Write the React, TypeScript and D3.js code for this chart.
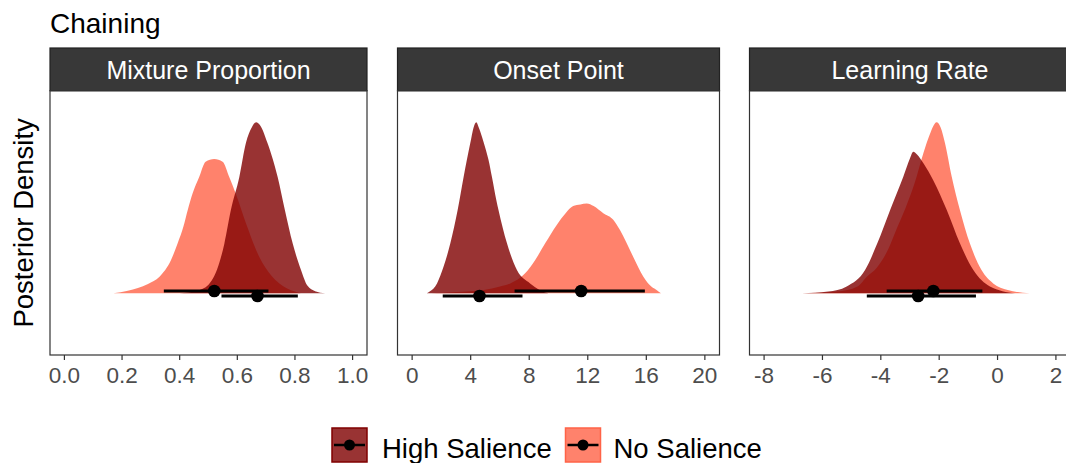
import React from "react";
import * as d3 from "d3";

// ---------- data ----------
const panelTitles = ["Mixture Proportion", "Onset Point", "Learning Rate"];
const groupNames = ["High Salience", "No Salience"];
const xTickValues = [
  [0, 0.2, 0.4, 0.6, 0.8, 1.0],
  [0, 4, 8, 12, 16, 20],
  [-8, -6, -4, -2, 0, 2],
];
const xTickLabels = [
  ["0.0", "0.2", "0.4", "0.6", "0.8", "1.0"],
  ["0", "4", "8", "12", "16", "20"],
  ["-8", "-6", "-4", "-2", "0", "2"],
];
const xDomains = [
  [-0.05, 1.05],
  [-1, 21],
  [-8.5, 2.5],
];

// relative posterior density (panel max = 1)
const mixtureHigh = [
  [0.4, 0], [0.46, 0.015], [0.5, 0.05], [0.53, 0.14], [0.555, 0.29], [0.578, 0.49],
  [0.607, 0.68], [0.63, 0.88], [0.65, 0.97], [0.665, 1.0], [0.68, 0.98], [0.705, 0.877],
  [0.74, 0.68], [0.765, 0.487], [0.792, 0.292], [0.821, 0.136], [0.843, 0.045],
  [0.87, 0.012], [0.905, 0],
];
const mixtureNo = [
  [0.17, 0], [0.22, 0.015], [0.29, 0.055], [0.33, 0.097], [0.37, 0.195], [0.393, 0.292],
  [0.413, 0.39], [0.428, 0.487], [0.445, 0.585], [0.468, 0.682], [0.49, 0.77],
  [0.52, 0.785], [0.549, 0.77], [0.572, 0.68], [0.595, 0.58], [0.63, 0.41],
  [0.676, 0.214], [0.72, 0.1], [0.746, 0.058], [0.8, 0.01], [0.82, 0],
];
const onsetHigh = [
  [1.0, 0], [1.2, 0.01], [1.7, 0.058], [2.15, 0.156], [2.61, 0.292], [3.11, 0.487],
  [3.52, 0.682], [3.97, 0.877], [4.2, 0.97], [4.38, 1.0], [4.55, 0.97], [4.77, 0.916],
  [5.0, 0.85], [5.22, 0.78], [5.45, 0.682], [5.75, 0.546], [5.9, 0.487], [6.48, 0.292],
  [7.16, 0.136], [8.06, 0.058], [8.7, 0.02], [9.3, 0],
];
const onsetNo = [
  [1.3, 0], [3.0, 0.008], [4.88, 0.02], [6.0, 0.04], [6.7, 0.058], [7.72, 0.117],
  [8.41, 0.195], [9.09, 0.292], [9.88, 0.4], [10.5, 0.47], [11.0, 0.51], [11.5, 0.52],
  [11.93, 0.525], [12.4, 0.51], [13.06, 0.468], [13.74, 0.43], [14.2, 0.37],
  [15.1, 0.214], [15.8, 0.097], [16.4, 0.035], [16.7, 0.02], [17.0, 0],
];
const rateHigh = [
  [-6.7, 0], [-5.8, 0.01], [-5.17, 0.04], [-4.54, 0.136], [-4.12, 0.292], [-3.68, 0.487],
  [-3.23, 0.682], [-3.0, 0.79], [-2.89, 0.828], [-2.75, 0.81], [-2.54, 0.76],
  [-2.2, 0.66], [-1.74, 0.487], [-1.29, 0.292], [-0.83, 0.136], [-0.26, 0.04], [0.6, 0],
];
const rateNo = [
  [-6.7, 0], [-5.5, 0.01], [-4.8, 0.04], [-4.48, 0.097], [-4.14, 0.15], [-3.74, 0.26],
  [-3.45, 0.38], [-3.15, 0.5], [-2.85, 0.64], [-2.54, 0.82], [-2.32, 0.93], [-2.09, 1.0],
  [-1.95, 0.97], [-1.8, 0.877], [-1.57, 0.682], [-1.29, 0.487], [-0.95, 0.292],
  [-0.55, 0.136], [-0.15, 0.058], [0.35, 0.02], [1.1, 0],
];
const densityHigh = [mixtureHigh, onsetHigh, rateHigh];
const densityNo = [mixtureNo, onsetNo, rateNo];

// point + interval summaries per panel
const highMedian = [0.67, 4.6, -2.72];
const highLower = [0.545, 2.09, -4.48];
const highUpper = [0.81, 7.54, -0.74];
const noMedian = [0.52, 11.55, -2.2];
const noLower = [0.345, 7.0, -3.8];
const noUpper = [0.708, 15.9, -0.52];

// ---------- styling / layout ----------
const FONT = "'Liberation Sans', Arial, Helvetica, sans-serif";
const HIGH_COLOR = "#800000";
const NO_COLOR = "#FF6347";
const ALPHA = 0.8;
const panelLeft = [50, 397.5, 749.5];
const panelRight = [367, 719.5, 1070.5];
const STRIP_TOP = 48;
const PANEL_TOP = 90.7;
const PANEL_BOTTOM = 355;
const BASELINE = 293.3;
const PEAK = 122.3;
const DODGE_HIGH = 296;
const DODGE_NO = 291;

export default function App() {
  const y = d3.scaleLinear().domain([0, 1]).range([BASELINE, PEAK]);

  const panels = panelTitles.map((title, i) => {
    const x = d3.scaleLinear().domain(xDomains[i]).range([panelLeft[i], panelRight[i]]);
    const area = d3
      .area<number[]>()
      .x((d) => x(d[0]))
      .y0(y(0))
      .y1((d) => y(d[1]))
      .curve(d3.curveMonotoneX);
    const cx = (panelLeft[i] + panelRight[i]) / 2;
    const w = panelRight[i] - panelLeft[i];
    return (
      <g key={title}>
        <rect x={panelLeft[i]} y={STRIP_TOP} width={w} height={PANEL_TOP - STRIP_TOP}
          fill="#383838" stroke="#222" strokeWidth={1.2} />
        <text x={cx} y={78.5} textAnchor="middle" fill="#ffffff" fontSize={25} fontFamily={FONT}>
          {title}
        </text>
        <path d={area(densityNo[i]) || ""} fill={NO_COLOR} fillOpacity={ALPHA} />
        <path d={area(densityHigh[i]) || ""} fill={HIGH_COLOR} fillOpacity={ALPHA} />
        {/* intervals */}
        <line x1={x(highLower[i])} x2={x(highUpper[i])} y1={DODGE_HIGH} y2={DODGE_HIGH}
          stroke="#000" strokeWidth={3} />
        <circle cx={x(highMedian[i])} cy={DODGE_HIGH} r={6.3} fill="#000" />
        <line x1={x(noLower[i])} x2={x(noUpper[i])} y1={DODGE_NO} y2={DODGE_NO}
          stroke="#000" strokeWidth={3} />
        <circle cx={x(noMedian[i])} cy={DODGE_NO} r={6.3} fill="#000" />
        <rect x={panelLeft[i]} y={PANEL_TOP} width={w} height={PANEL_BOTTOM - PANEL_TOP}
          fill="none" stroke="#333333" strokeWidth={1.2} />
        {xTickValues[i].map((v, k) => (
          <g key={k}>
            <line x1={x(v)} x2={x(v)} y1={PANEL_BOTTOM} y2={PANEL_BOTTOM + 5}
              stroke="#333333" strokeWidth={1.2} />
            <text x={x(v)} y={383} textAnchor="middle" fill="#4d4d4d" fontSize={22.5}
              fontFamily={FONT}>
              {xTickLabels[i][k]}
            </text>
          </g>
        ))}
      </g>
    );
  });

  const legendX = [332, 565.5];
  const legendTextX = [382, 613.5];
  const legendColors = [HIGH_COLOR, NO_COLOR];

  return (
    <svg width={1066} height={463} style={{ position: "absolute", left: 0, top: 0 }}
      fontFamily={FONT}>
      <rect x={0} y={0} width={1066} height={463} fill="#ffffff" />
      <text x={50} y={32.5} fontSize={28} fill="#000">Chaining</text>
      <text transform={`translate(33, ${(PANEL_TOP + PANEL_BOTTOM) / 2}) rotate(-90)`}
        textAnchor="middle" fontSize={27.5} fill="#000">
        Posterior Density
      </text>
      {panels}
      {groupNames.map((g, i) => (
        <g key={g}>
          <rect x={legendX[i]} y={428} width={35} height={34} fill={legendColors[i]}
            fillOpacity={ALPHA} stroke={legendColors[i]} strokeWidth={1.5} />
          <line x1={legendX[i] + 2} x2={legendX[i] + 33} y1={445} y2={445} stroke="#000"
            strokeWidth={2.5} />
          <circle cx={legendX[i] + 17.5} cy={445} r={5.5} fill="#000" />
          <text x={legendTextX[i]} y={457.5} fontSize={27.5} fill="#000">{g}</text>
        </g>
      ))}
    </svg>
  );
}
